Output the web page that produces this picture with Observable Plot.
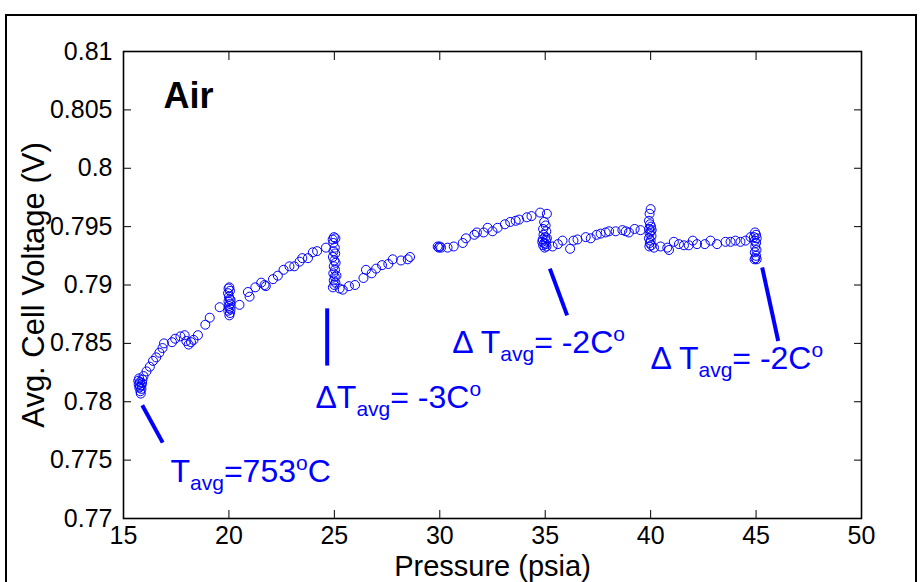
<!DOCTYPE html>
<html><head><meta charset="utf-8">
<script src="https://cdn.jsdelivr.net/npm/d3@7"></script>
<script src="https://cdn.jsdelivr.net/npm/@observablehq/plot@0.6"></script>
<style>
html,body{margin:0;padding:0;background:#fff;overflow:hidden;}
#wrap{position:relative;width:923px;height:582px;overflow:hidden;}
#wrap svg{position:absolute;left:0;top:0;}
#border{position:absolute;left:5px;top:14px;width:912px;height:640px;border:2px solid #000;box-sizing:border-box;pointer-events:none;z-index:2;}
</style></head><body><div id="wrap"><div id="border"></div></div>
<script>
// Measured points: pressure (psia) and average cell voltage (V)
const pressure = [
15.70,15.72,15.75,15.78,15.80,15.82,15.78,15.85,15.88,15.90,15.74,15.85,
15.95,16.09,16.25,16.40,16.55,16.70,16.85,16.92,17.30,17.45,17.70,17.90,17.98,18.09,18.20,18.32,18.53,18.88,19.09,19.56,
19.98,20.02,20.05,19.96,20.00,20.04,19.98,20.06,20.00,20.03,19.97,20.05,20.02,20.08,20.08,
20.50,20.90,20.98,21.25,21.53,21.69,21.75,22.09,22.32,22.59,22.87,23.10,23.35,23.48,23.75,23.98,24.18,24.60,
24.92,24.98,25.05,24.95,25.02,24.96,25.04,24.93,25.00,25.06,24.97,25.03,24.95,25.02,25.10,24.97,25.05,24.93,25.00,
25.25,25.40,25.69,25.98,26.38,26.50,26.77,26.98,27.26,27.56,27.77,28.16,28.48,28.59,
29.90,29.95,30.00,30.06,30.37,30.66,31.09,31.24,31.64,31.76,32.08,32.27,32.50,32.74,33.09,33.34,33.60,33.76,34.13,34.35,34.76,35.08,
34.95,35.02,34.90,35.05,34.92,35.00,34.88,35.04,34.95,35.02,34.90,35.06,34.97,35.08,34.86,
35.35,35.60,35.82,36.18,36.34,36.53,36.92,37.16,37.44,37.63,37.87,38.03,38.34,38.66,38.82,38.97,39.24,39.52,
40.00,39.95,39.92,39.97,40.02,39.93,40.00,39.95,40.04,39.92,40.00,39.96,40.03,39.94,40.05,
40.16,40.47,40.79,40.87,41.10,41.34,41.58,41.81,42.00,42.20,42.57,42.84,43.15,43.55,43.79,44.02,44.26,44.50,44.74,
44.95,45.00,44.90,45.03,44.93,45.00,44.96,45.02,44.94,45.00,44.97,45.03,44.93
];
const voltage = [
0.7818,0.7815,0.7812,0.7817,0.7809,0.7807,0.7813,0.7811,0.7816,0.7819,0.7820,0.7814,
0.7822,0.7826,0.7830,0.7835,0.7838,0.7842,0.7846,0.7850,0.7851,0.7854,0.7856,0.7857,0.7852,0.7849,0.7851,0.7853,0.7857,0.7866,0.7872,0.7881,
0.7897,0.7898,0.7895,0.7893,0.7890,0.7888,0.7886,0.7884,0.7882,0.7880,0.7878,0.7876,0.7874,0.7879,0.7887,
0.7883,0.7894,0.7890,0.7898,0.7902,0.7900,0.7899,0.7905,0.7908,0.7913,0.7916,0.7916,0.7920,0.7923,0.7923,0.7928,0.7929,0.7932,
0.7939,0.7941,0.7940,0.7936,0.7932,0.7929,0.7927,0.7924,0.7921,0.7919,0.7916,0.7913,0.7910,0.7907,0.7908,0.7904,0.7902,0.7898,0.7900,
0.7897,0.7896,0.7899,0.7900,0.7906,0.7913,0.7910,0.7914,0.7917,0.7918,0.7922,0.7921,0.7922,0.7924,
0.7933,0.7932,0.7933,0.7932,0.7932,0.7933,0.7936,0.7940,0.7943,0.7945,0.7945,0.7949,0.7946,0.7949,0.7952,0.7954,0.7955,0.7956,0.7958,0.7959,0.7962,0.7961,
0.7954,0.7951,0.7948,0.7946,0.7943,0.7941,0.7939,0.7938,0.7936,0.7935,0.7934,0.7933,0.7932,0.7940,0.7937,
0.7933,0.7935,0.7938,0.7931,0.7938,0.7939,0.7941,0.7940,0.7943,0.7944,0.7945,0.7946,0.7946,0.7947,0.7946,0.7945,0.7948,0.7947,
0.7965,0.7961,0.7955,0.7952,0.7950,0.7948,0.7946,0.7944,0.7942,0.7940,0.7938,0.7936,0.7934,0.7933,0.7947,
0.7932,0.7933,0.7932,0.7930,0.7937,0.7935,0.7934,0.7934,0.7938,0.7935,0.7935,0.7938,0.7935,0.7937,0.7937,0.7938,0.7937,0.7938,0.7941,
0.7945,0.7943,0.7941,0.7940,0.7938,0.7936,0.7933,0.7930,0.7928,0.7925,0.7923,0.7922,0.7922
];
const xTicks = [15, 20, 25, 30, 35, 40, 45, 50];
const yTicks = [0.77, 0.775, 0.78, 0.785, 0.79, 0.795, 0.8, 0.805, 0.81];
const yTickLabels = ["0.77", "0.775", "0.78", "0.785", "0.79", "0.795", "0.8", "0.805", "0.81"];
const xTitle = "Pressure (psia)";
const yTitle = "Avg. Cell Voltage (V)";
const gasLabel = [{x: 16.9, y: 0.80512, t: "Air"}];
// annotation pointer lines, in data coordinates
const pointerLines = [
  {x1: 15.89, y1: 0.7797, x2: 16.86, y2: 0.7765},
  {x1: 24.66, y1: 0.7880, x2: 24.66, y2: 0.7831},
  {x1: 35.22, y1: 0.7914, x2: 36.04, y2: 0.7874},
  {x1: 45.29, y1: 0.7915, x2: 46.05, y2: 0.7852}
];
// annotation texts: parts are [text, kind] with kind n / sub / sup
const notes = [
  {key: "@n0", x: 17.23, y: 0.77311, parts: [["T","n"],["avg","sub"],["=753","n"],["o","sup"],["C","n"]]},
  {key: "@n1", x: 24.105, y: 0.77948, parts: [["\u0394T","n"],["avg","sub"],["= -3C","n"],["o","sup"]]},
  {key: "@n2", x: 30.59, y: 0.78416, parts: [["\u0394 T","n"],["avg","sub"],["= -2C","n"],["o","sup"]]},
  {key: "@n3", x: 39.99, y: 0.78282, parts: [["\u0394 T","n"],["avg","sub"],["= -2C","n"],["o","sup"]]}
];

const blue = "#0000ff";
const pts = pressure.map((p, i) => ({p, v: voltage[i]}));

const chart = Plot.plot({
  width: 923,
  height: 582,
  marginLeft: 123,
  marginRight: 62,
  marginTop: 51,
  marginBottom: 64,
  style: {fontFamily: "'Liberation Sans', Arial, sans-serif", background: "transparent", color: "#000"},
  x: {domain: [15, 50], label: null, axis: null},
  y: {domain: [0.77, 0.81], label: null, axis: null},
  marks: [
    Plot.dot(pts, {x: "p", y: "v", r: 4.5, stroke: blue, fill: "none", strokeWidth: 1}),
    Plot.link(pointerLines, {x1: "x1", y1: "y1", x2: "x2", y2: "y2", stroke: blue, strokeWidth: 4}),
    Plot.text(notes, {x: "x", y: "y", text: "key", textAnchor: "start", lineAnchor: "bottom", fill: blue, fontSize: 32}),
    Plot.text(gasLabel, {x: "x", y: "y", text: "t", textAnchor: "start", lineAnchor: "bottom", fill: "#000", fontSize: 36, fontWeight: "bold"}),
    Plot.axisX(xTicks, {anchor: "bottom", tickSize: 0, tickPadding: 8, fontSize: 25, label: null}),
    Plot.axisX(xTicks, {anchor: "bottom", tickSize: -8, fill: "none", label: null}),
    Plot.axisX(xTicks, {anchor: "top", tickSize: -8, fill: "none", label: null}),
    Plot.axisY(yTicks, {anchor: "left", tickSize: 0, tickPadding: 11, fontSize: 25, label: null,
      tickFormat: d => yTickLabels[yTicks.indexOf(d)]}),
    Plot.axisY(yTicks, {anchor: "left", tickSize: -8, fill: "none", label: null}),
    Plot.axisY(yTicks, {anchor: "right", tickSize: -8, fill: "none", label: null}),
    Plot.frame({stroke: "#000", strokeWidth: 1.6}),
    Plot.text([xTitle], {frameAnchor: "bottom", dy: 48, lineAnchor: "middle", textAnchor: "middle", fontSize: 29, text: d => d}),
    Plot.text([yTitle], {frameAnchor: "left", dx: -89, rotate: -90, lineAnchor: "middle", textAnchor: "middle", fontSize: 31, text: d => d})
  ]
});

const byKey = new Map(notes.map(n => [n.key, n]));
d3.select(chart).selectAll("text").each(function () {
  const n = byKey.get(this.textContent);
  if (!n) return;
  const t = d3.select(this);
  t.text(null);
  let shift = 0;
  for (const [s, kind] of n.parts) {
    const target = kind === "sub" ? 8 : kind === "sup" ? -12 : 0;
    t.append("tspan")
      .attr("dy", target - shift)
      .attr("font-size", kind === "n" ? 32 : 21)
      .text(s);
    shift = target;
  }
});

document.getElementById("wrap").appendChild(chart);
</script>
</body></html>
